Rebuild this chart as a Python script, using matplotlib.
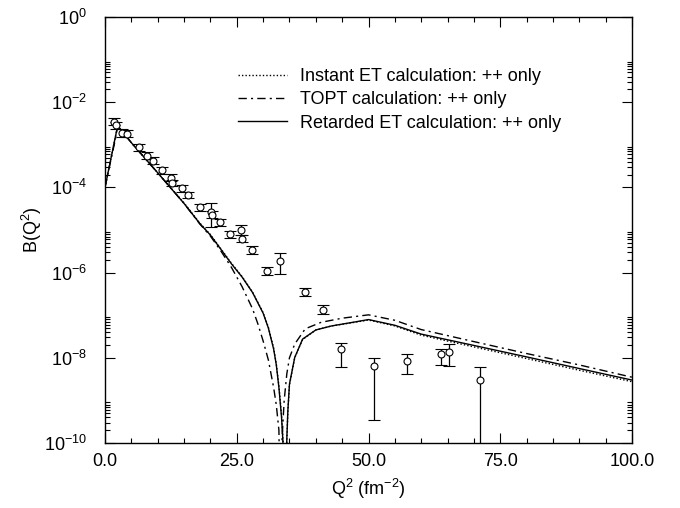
import matplotlib

matplotlib.use("Agg")
import matplotlib.pyplot as plt
from matplotlib.ticker import FixedLocator, NullFormatter, LogFormatterSciNotation

plt.rcParams["font.family"] = ["Liberation Sans", "DejaVu Sans"]
plt.rcParams["mathtext.fontset"] = "custom"
plt.rcParams["mathtext.rm"] = "Liberation Sans"
plt.rcParams["mathtext.it"] = "Liberation Sans:italic"
plt.rcParams["mathtext.bf"] = "Liberation Sans:bold"

# measured points
q2_data = [1.7, 2.1, 3.3, 4.1, 6.5, 7.9, 9.2, 10.8, 12.5, 12.7, 14.7, 15.8, 18.0,
           20.1, 20.3, 21.8, 23.7, 25.8, 26.0, 27.8, 30.8, 33.3, 38.0, 41.3,
           44.7, 51.0, 57.4, 63.8, 65.2, 71.2]
b_data = [3.5e-3, 2.9e-3, 1.9e-3, 1.8e-3, 8.7e-4, 5.6e-4, 4.2e-4, 2.5e-4, 1.7e-4,
          1.26e-4, 9.5e-5, 6.6e-5, 3.4e-5, 2.7e-5, 2.3e-5, 1.5e-5, 7.9e-6, 9.8e-6,
          6.3e-6, 3.4e-6, 1.1e-6, 1.9e-6, 3.5e-7, 1.35e-7, 1.6e-8, 6.3e-9, 8.5e-9,
          1.2e-8, 1.4e-8, 3.0e-9]
b_low = [2.9e-3, 2.4e-3, 1.55e-3, 1.5e-3, 7.2e-4, 4.6e-4, 3.5e-4, 2.1e-4, 1.4e-4,
         1.05e-4, 7.9e-5, 5.5e-5, 2.8e-5, 1.17e-5, 1.9e-5, 1.25e-5, 6.5e-6, 7.6e-6,
         5.2e-6, 2.8e-6, 9.0e-7, 9.5e-7, 2.8e-7, 1.05e-7, 6.2e-9, 3.4e-10, 4.1e-9,
         6.8e-9, 6.5e-9, 1e-11]
b_high = [4.2e-3, 3.5e-3, 2.3e-3, 2.2e-3, 1.05e-3, 6.8e-4, 5.1e-4, 3.0e-4, 2.05e-4,
          1.5e-4, 1.15e-4, 8.0e-5, 4.1e-5, 4.4e-5, 2.8e-5, 1.8e-5, 9.6e-6, 1.29e-5,
          7.6e-6, 4.1e-6, 1.35e-6, 2.9e-6, 4.3e-7, 1.7e-7, 2.2e-8, 1.0e-8, 1.26e-8,
          1.6e-8, 2.1e-8, 6.0e-9]

# calculations
q2_ret = [0, 1, 2, 2.4, 5, 10, 15, 18, 20, 22, 24, 26, 28, 30, 31, 32, 32.5, 33,
          33.5, 34, 34.2, 34.5, 34.7, 35, 36, 37.5, 40, 43, 47, 50, 55, 60, 70,
          80, 90, 100]
b_ret = [1e-4, 4.0e-4, 1.6e-3, 2.8e-3, 1.12e-3, 2.2e-4, 4.2e-5, 1.41e-5, 7.6e-6,
         3.5e-6, 1.6e-6, 7.9e-7, 3.4e-7, 1.12e-7, 5.0e-8, 1.6e-8, 6.9e-9, 2.0e-9,
         4.0e-10, 3.2e-11, 1e-12, 1.26e-10, 5.8e-10, 2.4e-9, 1.02e-8, 2.75e-8,
         4.5e-8, 5.6e-8, 6.8e-8, 7.9e-8, 5.8e-8, 3.6e-8, 1.95e-8, 1.05e-8, 5.6e-9,
         3.0e-9]
b_inst = [1e-4, 4.0e-4, 1.6e-3, 2.8e-3, 1.12e-3, 2.2e-4, 4.3e-5, 1.45e-5, 7.8e-6,
          3.6e-6, 1.65e-6, 8.1e-7, 3.5e-7, 1.15e-7, 5.2e-8, 1.7e-8, 7.2e-9, 2.2e-9,
          4.6e-10, 4.0e-11, 1e-12, 1.1e-10, 5.4e-10, 2.3e-9, 1.0e-8, 2.7e-8, 4.5e-8,
          5.6e-8, 6.7e-8, 7.7e-8, 5.6e-8, 3.4e-8, 1.8e-8, 9.6e-9, 5.1e-9, 2.75e-9]
q2_topt = [0, 1, 2, 2.4, 5, 10, 15, 18, 20, 22, 24, 26, 28, 29, 30, 31, 32, 32.5,
           33, 33.3, 33.6, 34, 34.5, 35, 36, 38, 41, 45, 50, 55, 60, 70, 80, 90,
           100]
b_topt = [1e-4, 3.8e-4, 1.4e-3, 2.8e-3, 1.12e-3, 2.2e-4, 4.2e-5, 1.38e-5, 7.2e-6,
          3.2e-6, 1.32e-6, 4.7e-7, 1.41e-7, 6.3e-8, 2.5e-8, 8.9e-9, 2.0e-9, 7.9e-10,
          2.0e-10, 1e-12, 1.26e-10, 1.0e-9, 4.2e-9, 1.0e-8, 2.1e-8, 4.8e-8, 6.8e-8,
          8.5e-8, 1.02e-7, 7.6e-8, 4.6e-8, 2.4e-8, 1.26e-8, 6.8e-9, 3.5e-9]

labels = ["Instant ET calculation: ++ only",
          "TOPT calculation: ++ only",
          "Retarded ET calculation: ++ only"]
x_ticks = [0, 25, 50, 75, 100]
y_ticks = [1e0, 1e-2, 1e-4, 1e-6, 1e-8, 1e-10]

FS = 13


def main() -> None:
    fig = plt.figure(figsize=(6.8, 5.08), dpi=100)
    ax = fig.add_axes([105 / 680, 1 - 443 / 508, (632 - 105) / 680, (443 - 17) / 508])

    ax.plot(q2_ret, b_inst, color="black", lw=1.0, ls=(0, (1, 1.5)), label=labels[0])
    ax.plot(q2_topt, b_topt, color="black", lw=1.0, ls=(0, (6, 3, 1.5, 3)), label=labels[1])
    ax.plot(q2_ret, b_ret, color="black", lw=1.0, ls="-", label=labels[2])

    yerr = [[b - lo for b, lo in zip(b_data, b_low)],
            [hi - b for b, hi in zip(b_data, b_high)]]
    ax.errorbar(q2_data, b_data, yerr=yerr, fmt="o", mfc="white", mec="black",
                ms=5, mew=0.8, ecolor="black", elinewidth=0.9, capsize=4.5,
                capthick=0.9, zorder=3)

    ax.set_yscale("log")
    ax.set_xlim(0, 100)
    ax.set_ylim(1e-10, 1e0)

    ax.set_xticks(x_ticks)
    ax.set_xticklabels([f"{v:.1f}" for v in x_ticks])
    ax.xaxis.set_minor_locator(FixedLocator(range(0, 101, 5)))

    ax.yaxis.set_major_locator(FixedLocator(y_ticks))
    ax.yaxis.set_major_formatter(LogFormatterSciNotation())
    minor = [k * 10.0 ** e for e in (-10, -8, -6, -4, -2) for k in range(2, 10)]
    ax.yaxis.set_minor_locator(FixedLocator(minor))
    ax.yaxis.set_minor_formatter(NullFormatter())

    ax.tick_params(which="both", direction="in", top=True, right=True,
                   labelsize=FS)
    ax.tick_params(axis="x", which="major", pad=7)
    ax.tick_params(axis="y", which="major", pad=13)
    ax.tick_params(which="major", length=7, width=0.8)
    ax.tick_params(which="minor", length=3.5, width=0.8)
    for sp in ax.spines.values():
        sp.set_linewidth(1.0)

    ax.set_xlabel(r"$\mathregular{Q^2\ (fm^{-2})}$", fontsize=FS, labelpad=5)
    ax.set_ylabel(r"$\mathregular{B(Q^2)}$", fontsize=FS)
    ax.yaxis.set_label_coords(-0.116, 0.5)

    fig.legend(loc="upper left", bbox_to_anchor=(238 / 680, 1 - 68 / 508),
               frameon=False, fontsize=FS, handlelength=2.7,
               handletextpad=0.75, labelspacing=0.35, borderpad=0,
               borderaxespad=0)

    fig.savefig("out.png", dpi=100)


if __name__ == "__main__":
    main()
